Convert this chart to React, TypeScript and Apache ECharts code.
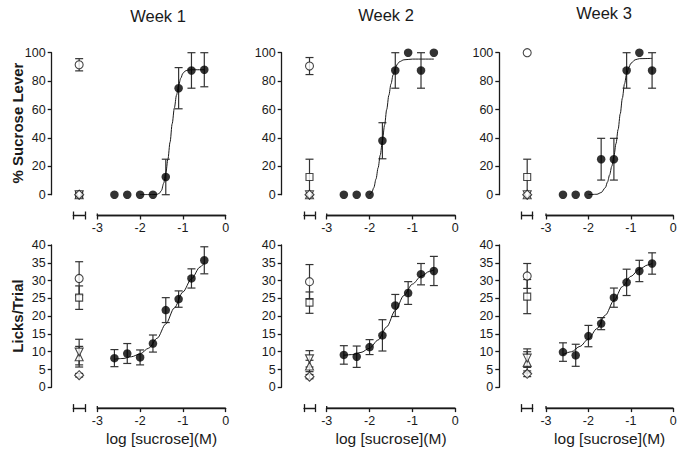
import React, { useEffect, useRef } from "react";
import * as echarts from "echarts";

// ---------- data ----------
const WEEKS = ["Week 1", "Week 2", "Week 3"];
const ROW_NAMES = ["% Sucrose Lever", "Licks/Trial"];
const X_TICKS = [-3, -2, -1, 0];
const LOG_SUCROSE = [-2.6, -2.3, -2.0, -1.7, -1.4, -1.1, -0.8, -0.5];

const W1_LEVER = [0, 0, 0, 0, 12.5, 75, 87.5, 88];
const W1_LEVER_SEM = [0, 0, 0, 0, 12.5, 14.5, 12.5, 12];
const W2_LEVER = [0, 0, 0, 38, 87.5, 100, 87.5, 100];
const W2_LEVER_SEM = [0, 0, 0, 12.7, 12.5, 0, 12.5, 0];
const W3_LEVER = [0, 0, 0, 25, 25, 87.5, 100, 87.5];
const W3_LEVER_SEM = [0, 0, 0, 14.7, 14.7, 12.5, 0, 12.5];

const W1_LICKS = [8.2, 9.5, 8.4, 12.3, 21.7, 24.8, 30.6, 35.7];
const W1_LICKS_SEM = [2.4, 2.8, 2.1, 2.4, 3.5, 2.3, 2.7, 3.8];
const W2_LICKS = [9.1, 8.6, 11.3, 14.6, 23.0, 26.5, 31.8, 32.7];
const W2_LICKS_SEM = [2.6, 3.0, 2.1, 4.4, 3.1, 3.2, 3.0, 4.1];
const W3_LICKS = [9.9, 9.0, 14.4, 17.9, 25.2, 29.5, 32.7, 34.8];
const W3_LICKS_SEM = [2.6, 3.1, 3.0, 1.7, 2.7, 3.7, 3.0, 3.0];

// controls: circle, square, triangle up, triangle down, diamond
const W1_LEVER_CTRL = [91.5, 0, 0, 0, 0];
const W1_LEVER_CTRL_SEM = [4.3, 0, 0, 0, 0];
const W2_LEVER_CTRL = [90.6, 12.5, 0, 0, 0];
const W2_LEVER_CTRL_SEM = [6, 12.5, 0, 0, 0];
const W3_LEVER_CTRL = [100, 12.5, 0, 0, 0];
const W3_LEVER_CTRL_SEM = [0, 12.5, 0, 0, 0];
const W1_LICKS_CTRL = [30.6, 25.2, 8.6, 9.9, 3.4];
const W1_LICKS_CTRL_SEM = [4.7, 3.3, 2.9, 3.6, 0.5];
const W2_LICKS_CTRL = [29.7, 23.8, 6.0, 8.0, 3.0];
const W2_LICKS_CTRL_SEM = [4.8, 3.0, 1.6, 2.3, 0.6];
const W3_LICKS_CTRL = [31.3, 25.5, 7.0, 8.2, 3.8];
const W3_LICKS_CTRL_SEM = [3.5, 4.8, 3.0, 2.6, 0.8];

// fitted curves: [log M, value]
const W1_LEVER_FIT = [[-2.0, 0], [-1.7, 0], [-1.6, 0.3], [-1.55, 1], [-1.5, 3], [-1.45, 8], [-1.4, 15], [-1.35, 25], [-1.3, 37], [-1.25, 50], [-1.2, 61], [-1.15, 70], [-1.1, 77], [-1.05, 82], [-1.0, 85.5], [-0.95, 87], [-0.9, 87.7], [-0.8, 88], [-0.5, 88]];
const W2_LEVER_FIT = [[-2.0, 0], [-1.95, 1.5], [-1.9, 5], [-1.85, 11], [-1.8, 19], [-1.75, 28], [-1.7, 38], [-1.65, 49], [-1.6, 60], [-1.55, 70], [-1.5, 78], [-1.45, 84.5], [-1.4, 89], [-1.35, 92], [-1.3, 93.7], [-1.2, 95], [-1.0, 95.5], [-0.5, 95.5]];
const W3_LEVER_FIT = [[-2.0, 0], [-1.8, 0.3], [-1.7, 1.5], [-1.6, 5], [-1.55, 9], [-1.5, 14], [-1.45, 20], [-1.4, 27], [-1.35, 36], [-1.3, 46], [-1.25, 57], [-1.2, 68], [-1.15, 78], [-1.1, 85], [-1.05, 89.5], [-1.0, 92.5], [-0.9, 95], [-0.8, 95.8], [-0.5, 96]];
const W1_LICKS_FIT = [[-2.6, 7.9], [-2.4, 8.1], [-2.2, 8.6], [-2.0, 9.4], [-1.8, 11.0], [-1.6, 13.8], [-1.4, 17.8], [-1.2, 22.3], [-1.0, 26.8], [-0.8, 30.5], [-0.6, 33.8], [-0.5, 35.0]];
const W2_LICKS_FIT = [[-2.6, 9.0], [-2.4, 9.2], [-2.2, 9.8], [-2.0, 11.0], [-1.8, 13.3], [-1.6, 17.0], [-1.4, 21.6], [-1.2, 25.8], [-1.0, 29.0], [-0.8, 31.2], [-0.6, 32.6], [-0.5, 33.0]];
const W3_LICKS_FIT = [[-2.6, 9.2], [-2.4, 10.0], [-2.2, 11.5], [-2.0, 13.6], [-1.8, 16.5], [-1.6, 20.3], [-1.4, 24.4], [-1.2, 28.3], [-1.0, 31.2], [-0.8, 33.2], [-0.6, 34.4], [-0.5, 34.8]];

const Y_MAX = [100, 40];
const Y_INTERVAL = [20, 5];

// ---------- styles / layout ----------
const FONT = "'Liberation Sans', Arial, Helvetica, sans-serif";
const INK = "#1a1a1a";
const AXIS_W = 1.3;
const CTRL_SYMBOLS = [
  { symbol: "circle", size: 8, rotate: 0 },
  { symbol: "rect", size: 7, rotate: 0 },
  { symbol: "triangle", size: 8, rotate: 0 },
  { symbol: "triangle", size: 8, rotate: 180 },
  { symbol: "diamond", size: 9, rotate: 0 },
];
const COLS = [
  { yAxisX: 51.7, ctrlL: 73.3, ctrlR: 85, mainL: 97.3, mainR: 225.7 },
  { yAxisX: 281.7, ctrlL: 304, ctrlR: 315, mainL: 326.7, mainR: 455.3 },
  { yAxisX: 499.3, ctrlL: 521.7, ctrlR: 532.7, mainL: 546, mainR: 673.3 },
];
const ROWS = [
  { top: 52.7, bottom: 194.7 },
  { top: 245, bottom: 387.3 },
];
const X_OFFSET = 20.8;
const TITLE_POS = [
  { x: 158, y: 16 },
  { x: 386, y: 15 },
  { x: 604, y: 13 },
];

const TABLE = [
  [
    { mean: W1_LEVER, sem: W1_LEVER_SEM, ctrl: W1_LEVER_CTRL, ctrlSem: W1_LEVER_CTRL_SEM, fit: W1_LEVER_FIT },
    { mean: W2_LEVER, sem: W2_LEVER_SEM, ctrl: W2_LEVER_CTRL, ctrlSem: W2_LEVER_CTRL_SEM, fit: W2_LEVER_FIT },
    { mean: W3_LEVER, sem: W3_LEVER_SEM, ctrl: W3_LEVER_CTRL, ctrlSem: W3_LEVER_CTRL_SEM, fit: W3_LEVER_FIT },
  ],
  [
    { mean: W1_LICKS, sem: W1_LICKS_SEM, ctrl: W1_LICKS_CTRL, ctrlSem: W1_LICKS_CTRL_SEM, fit: W1_LICKS_FIT },
    { mean: W2_LICKS, sem: W2_LICKS_SEM, ctrl: W2_LICKS_CTRL, ctrlSem: W2_LICKS_CTRL_SEM, fit: W2_LICKS_FIT },
    { mean: W3_LICKS, sem: W3_LICKS_SEM, ctrl: W3_LICKS_CTRL, ctrlSem: W3_LICKS_CTRL_SEM, fit: W3_LICKS_FIT },
  ],
];

function errRender(params: any, api: any) {
  const x = api.value(0);
  const y = api.value(1);
  const e = api.value(2);
  if (!e) return { type: "group", children: [] };
  const top = api.coord([x, y + e]);
  const bot = api.coord([x, y - e]);
  const hw = 4;
  const style = { stroke: "#333", lineWidth: 1.2 };
  return {
    type: "group",
    children: [
      { type: "line", shape: { x1: top[0], y1: top[1], x2: bot[0], y2: bot[1] }, style },
      { type: "line", shape: { x1: top[0] - hw, y1: top[1], x2: top[0] + hw, y2: top[1] }, style },
      { type: "line", shape: { x1: bot[0] - hw, y1: bot[1], x2: bot[0] + hw, y2: bot[1] }, style },
    ],
  };
}

const MAIN_AXES: { x: number; y: number }[] = [];

function buildOption() {
  const grid: any[] = [];
  const xAxis: any[] = [];
  const yAxis: any[] = [];
  const series: any[] = [];
  const mkLine = () => ({ show: true, onZero: false, lineStyle: { color: INK, width: AXIS_W } });
  const mkTick = (extra: any = {}) => ({ show: true, length: 4, lineStyle: { color: INK, width: AXIS_W }, ...extra });
  MAIN_AXES.length = 0;

  ROWS.forEach((row, r) => {
    COLS.forEach((col, c) => {
      const d = TABLE[r][c];
      const h = row.bottom - row.top;
      const gCtrl = grid.length;
      grid.push({ left: col.ctrlL, top: row.top, width: col.ctrlR - col.ctrlL, height: h, outerBoundsMode: "none", containLabel: false });
      const gMain = grid.length;
      grid.push({ left: col.mainL, top: row.top, width: col.mainR - col.mainL, height: h, outerBoundsMode: "none", containLabel: false });

      const xCtrl = xAxis.length;
      xAxis.push({
        gridIndex: gCtrl, type: "category", data: ["ctrl"], boundaryGap: true, position: "bottom", offset: X_OFFSET,
        axisLine: mkLine(), axisTick: mkTick({ interval: 0 }), axisLabel: { show: false },
      });
      xAxis.push({
        gridIndex: gCtrl, type: "category", data: ["ctrl"], boundaryGap: true, position: "bottom", offset: X_OFFSET,
        axisLine: { show: false, onZero: false }, axisTick: mkTick({ interval: 0, inside: true }), axisLabel: { show: false },
      });
      const xMain = xAxis.length;
      xAxis.push({
        gridIndex: gMain, type: "value", min: X_TICKS[0], max: X_TICKS[X_TICKS.length - 1], interval: 1, position: "bottom", offset: X_OFFSET,
        axisLine: mkLine(), axisTick: mkTick(),
        axisLabel: { color: INK, fontSize: 12.5, fontFamily: FONT, margin: 6 },
        splitLine: { show: false },
        name: r === 1 ? "log [sucrose](M)" : "", nameLocation: "middle", nameGap: 22,
        nameTextStyle: { color: INK, fontSize: 15.5, fontFamily: FONT },
      });

      const yCtrl = yAxis.length;
      yAxis.push({
        gridIndex: gCtrl, type: "value", min: 0, max: Y_MAX[r], interval: Y_INTERVAL[r], position: "left", offset: col.ctrlL - col.yAxisX,
        axisLine: mkLine(), axisTick: mkTick(),
        axisLabel: { color: INK, fontSize: 12.5, fontFamily: FONT, margin: 6 },
        splitLine: { show: false },
      });
      const yMain = yAxis.length;
      yAxis.push({
        gridIndex: gMain, type: "value", min: 0, max: Y_MAX[r], show: true,
        axisLine: { show: false, onZero: false }, axisTick: { show: false }, axisLabel: { show: false }, splitLine: { show: false },
      });
      MAIN_AXES.push({ x: xMain, y: yMain });

      series.push({
        type: "custom", xAxisIndex: xCtrl, yAxisIndex: yCtrl, renderItem: errRender, z: 2, clip: false,
        data: d.ctrl.map((v: number, i: number) => [0, v, d.ctrlSem[i]]),
      });
      series.push({
        type: "scatter", xAxisIndex: xCtrl, yAxisIndex: yCtrl, z: 4,
        data: d.ctrl.map((v: number, i: number) => ({
          value: [0, v], symbol: CTRL_SYMBOLS[i].symbol, symbolSize: CTRL_SYMBOLS[i].size, symbolRotate: CTRL_SYMBOLS[i].rotate,
        })),
        itemStyle: { color: "#ffffff", borderColor: INK, borderWidth: 1.1 },
      });
      series.push({
        type: "custom", xAxisIndex: xMain, yAxisIndex: yMain, renderItem: errRender, z: 2, clip: false,
        data: LOG_SUCROSE.map((x, i) => [x, d.mean[i], d.sem[i]]),
      });
      series.push({
        type: "line", xAxisIndex: xMain, yAxisIndex: yMain, z: 3, data: d.fit, showSymbol: false, symbol: "none",
        smooth: 0.3, smoothMonotone: "x", lineStyle: { color: INK, width: 1 },
      });
      series.push({
        type: "scatter", xAxisIndex: xMain, yAxisIndex: yMain, z: 4, symbol: "circle", symbolSize: 8.5,
        data: LOG_SUCROSE.map((x, i) => [x, d.mean[i]]),
        itemStyle: { color: "#000" },
      });
    });
  });

  const graphic: any[] = [];
  WEEKS.forEach((w, i) => {
    graphic.push({
      id: `title${i}`, type: "text", x: TITLE_POS[i].x, y: TITLE_POS[i].y,
      style: { text: w, fill: INK, font: `16.5px ${FONT}`, textAlign: "center", textVerticalAlign: "middle" },
    });
  });
  const rowCenters = [123, 316];
  ROW_NAMES.forEach((n, i) => {
    graphic.push({
      id: `rowname${i}`, type: "text", x: 17, y: rowCenters[i], rotation: Math.PI / 2,
      style: { text: n, fill: INK, font: `bold 15px ${FONT}`, textAlign: "center", textVerticalAlign: "middle" },
    });
  });

  return { animation: false, backgroundColor: "#ffffff", grid, xAxis, yAxis, series, graphic };
}

export default function App() {
  const ref = useRef<HTMLDivElement>(null);
  useEffect(() => {
    if (!ref.current) return;
    const chart = echarts.init(ref.current, null, { renderer: "svg" });
    const option: any = buildOption();
    chart.setOption(option);
    // concentration-axis baselines, positioned through the axes' own scales
    const extra: any[] = [];
    MAIN_AXES.forEach((ax, i) => {
      const a = chart.convertToPixel({ xAxisIndex: ax.x, yAxisIndex: ax.y } as any, [X_TICKS[0], 0]) as any;
      const b = chart.convertToPixel({ xAxisIndex: ax.x, yAxisIndex: ax.y } as any, [X_TICKS[X_TICKS.length - 1], 0]) as any;
      if (!a || !b) return;
      const y = a[1] + X_OFFSET;
      extra.push({
        id: `base${i}`, type: "line", z: 50, silent: true,
        shape: { x1: a[0], y1: y, x2: b[0], y2: y }, style: { stroke: INK, lineWidth: AXIS_W },
      });
      extra.push({
        id: `basecap${i}`, type: "line", z: 50, silent: true,
        shape: { x1: a[0], y1: y - 2, x2: a[0], y2: y }, style: { stroke: INK, lineWidth: AXIS_W },
      });
    });
    chart.setOption({ graphic: [...option.graphic, ...extra] });
    return () => chart.dispose();
  }, []);
  return <div ref={ref} style={{ position: "fixed", left: 0, top: 0, width: 683, height: 454, background: "#fff" }} />;
}
